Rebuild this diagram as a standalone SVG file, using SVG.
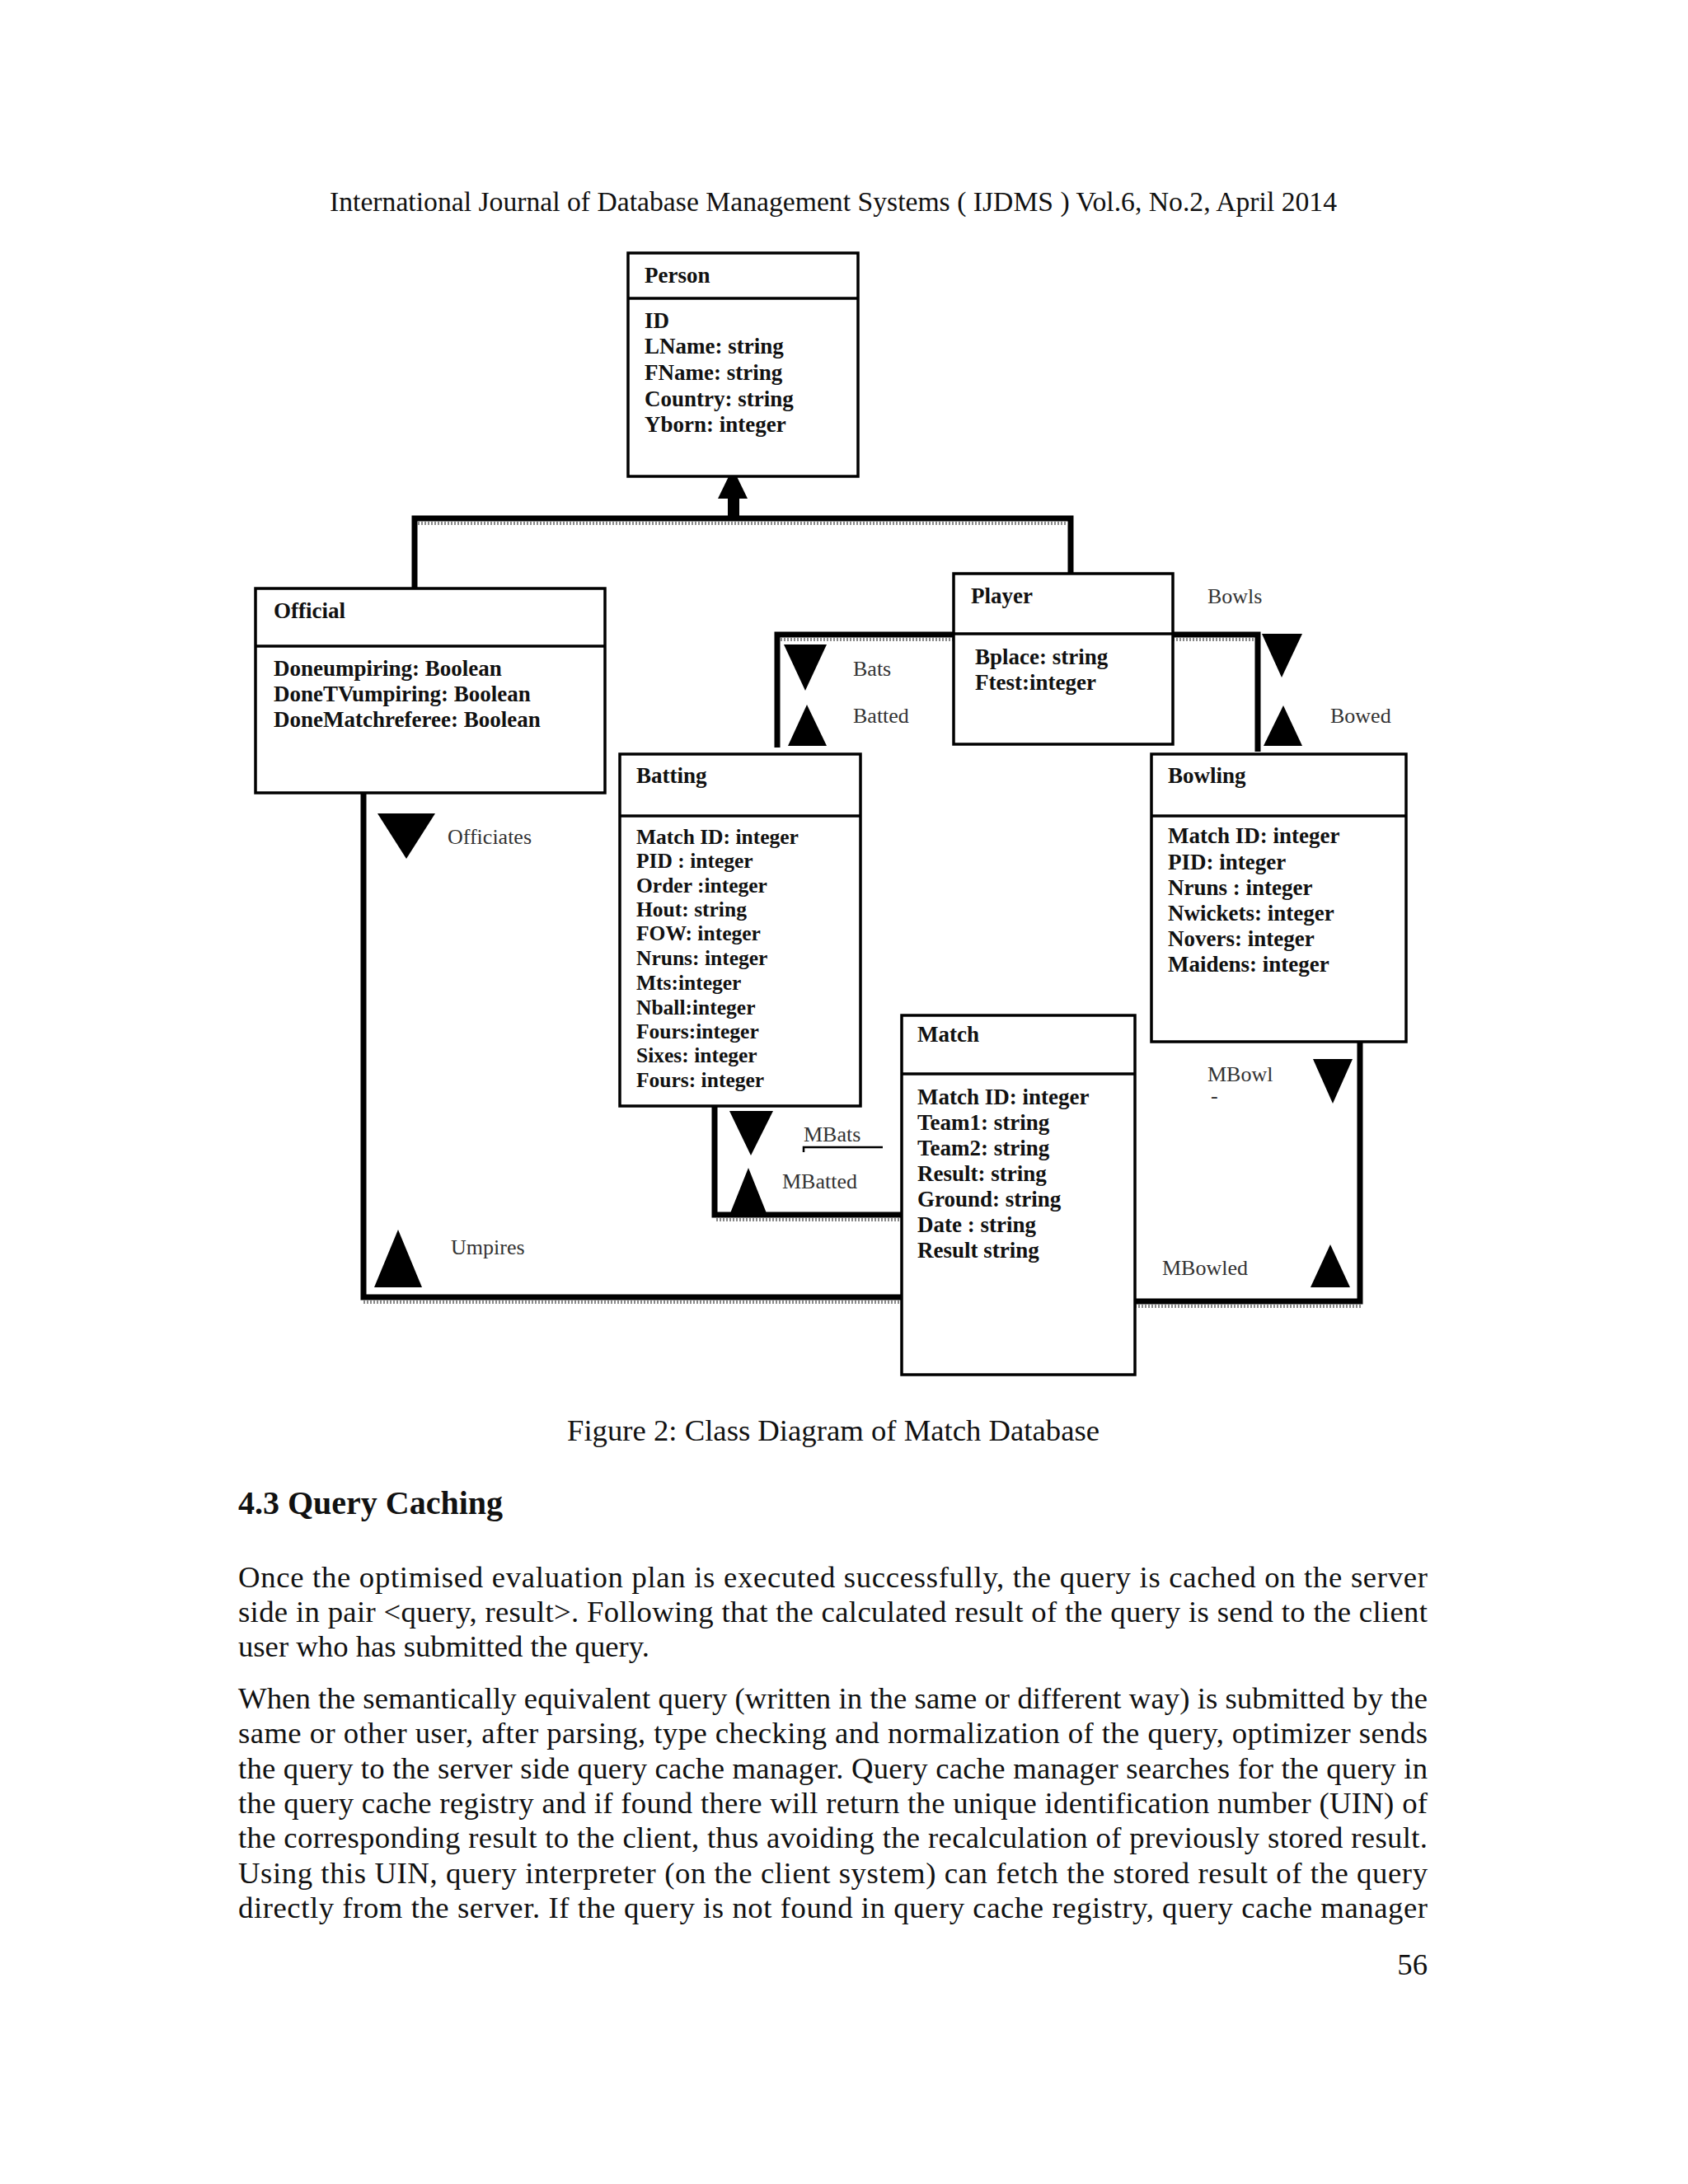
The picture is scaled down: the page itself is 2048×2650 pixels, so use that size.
<svg xmlns="http://www.w3.org/2000/svg" width="2048" height="2650" viewBox="0 0 2048 2650">
<style>
text{font-family:"Liberation Serif","Times New Roman",serif;fill:#111}
.page{font-size:36.7px}
.hdr{font-size:33.5px}
.h2{font-size:40px;font-weight:bold}
.ttl{font-size:27px;font-weight:bold}
.att{font-size:27px;font-weight:bold}
.attb{font-size:25.5px;font-weight:bold}
.lbl{font-size:26px;fill:#333}
.box{fill:#fff;stroke:#000;stroke-width:3.5}
.div{stroke:#000;stroke-width:3.5}
.ln{fill:none;stroke:#000;stroke-width:7;stroke-linejoin:miter}
.hatch{fill:none;stroke:#8a8a8a;stroke-width:4;stroke-dasharray:2 2}
.tri{fill:#000}
</style>
<rect width="2048" height="2650" fill="#fff"/>
<text class="hdr" x="400" y="256" textLength="1222" lengthAdjust="spacingAndGlyphs">International Journal of Database Management Systems ( IJDMS ) Vol.6, No.2, April 2014</text>

<g id="connectors">
  <!-- inheritance -->
  <polygon class="tri" points="889,568 907,605 871,605"/>
  <rect x="883" y="604" width="14" height="22" fill="#000"/>
  <path class="ln" d="M503,714 V629 H1299 V697"/>
  <path class="hatch" d="M507,635 H1296"/>
  <!-- Bats / Batted -->
  <path class="ln" d="M943,907 V770 H1157"/>
  <path class="hatch" d="M947,776 H1157"/>
  <polygon class="tri" points="951,782 1003,782 977,838"/>
  <polygon class="tri" points="956,905 1003,905 979,855"/>
  <!-- Bowls / Bowed -->
  <path class="ln" d="M1423,770 H1526 V912"/>
  <path class="hatch" d="M1423,776 H1522"/>
  <polygon class="tri" points="1531,769 1580,769 1555,822"/>
  <polygon class="tri" points="1533,905 1580,905 1557,856"/>
  <!-- Officiates / Umpires -->
  <path class="ln" d="M441,962 V1574 H1094"/>
  <path class="hatch" d="M441,1580 H1094"/>
  <polygon class="tri" points="458,987 528,987 493,1042"/>
  <polygon class="tri" points="454,1562 512,1562 483,1492"/>
  <!-- MBats / MBatted -->
  <path class="ln" d="M867,1342 V1474 H1094"/>
  <path class="hatch" d="M869,1480 H1094"/>
  <polygon class="tri" points="885,1348 938,1348 911,1402"/>
  <polygon class="tri" points="886,1472 930,1472 908,1417"/>
  <path d="M975,1398 V1392 H1071" fill="none" stroke="#000" stroke-width="2.5"/>
  <!-- MBowl / MBowled -->
  <path class="ln" d="M1650,1264 V1579 H1377"/>
  <path class="hatch" d="M1377,1585 H1653"/>
  <polygon class="tri" points="1593,1285 1641,1285 1617,1339"/>
  <polygon class="tri" points="1590,1562 1638,1562 1614,1510"/>
</g>

<g id="connector-labels">
  <text class="lbl" x="1035" y="820">Bats</text>
  <text class="lbl" x="1035" y="877">Batted</text>
  <text class="lbl" x="1465" y="732">Bowls</text>
  <text class="lbl" x="1614" y="877">Bowed</text>
  <text class="lbl" x="543" y="1024">Officiates</text>
  <text class="lbl" x="547" y="1522">Umpires</text>
  <text class="lbl" x="975" y="1385">MBats</text>
  <text class="lbl" x="949" y="1442">MBatted</text>
  <text class="lbl" x="1465" y="1312">MBowl</text>
  <text class="lbl" x="1469" y="1338">-</text>
  <text class="lbl" x="1410" y="1547">MBowled</text>
</g>

<g id="person">
  <rect class="box" x="762" y="307" width="279" height="271"/>
  <line class="div" x1="762" y1="362" x2="1041" y2="362"/>
  <text class="ttl" x="782" y="343">Person</text>
  <text class="att" x="782" y="398">ID</text>
  <text class="att" x="782" y="429">LName: string</text>
  <text class="att" x="782" y="461">FName: string</text>
  <text class="att" x="782" y="493">Country: string</text>
  <text class="att" x="782" y="524">Yborn: integer</text>
</g>

<g id="official">
  <rect class="box" x="310" y="714" width="424" height="248"/>
  <line class="div" x1="310" y1="784" x2="734" y2="784"/>
  <text class="ttl" x="332" y="750">Official</text>
  <text class="att" x="332" y="820">Doneumpiring: Boolean</text>
  <text class="att" x="332" y="851">DoneTVumpiring: Boolean</text>
  <text class="att" x="332" y="882">DoneMatchreferee: Boolean</text>
</g>

<g id="player">
  <rect class="box" x="1157" y="696" width="266" height="207"/>
  <line class="div" x1="1157" y1="769" x2="1423" y2="769"/>
  <text class="ttl" x="1178" y="732">Player</text>
  <text class="att" x="1183" y="806">Bplace: string</text>
  <text class="att" x="1183" y="837">Ftest:integer</text>
</g>

<g id="batting">
  <rect class="box" x="752" y="915" width="292" height="427"/>
  <line class="div" x1="752" y1="990" x2="1044" y2="990"/>
  <text class="ttl" x="772" y="950">Batting</text>
  <text class="attb" x="772" y="1024">Match ID: integer</text>
  <text class="attb" x="772" y="1053">PID : integer</text>
  <text class="attb" x="772" y="1083">Order :integer</text>
  <text class="attb" x="772" y="1112">Hout: string</text>
  <text class="attb" x="772" y="1141">FOW: integer</text>
  <text class="attb" x="772" y="1171">Nruns: integer</text>
  <text class="attb" x="772" y="1201">Mts:integer</text>
  <text class="attb" x="772" y="1231">Nball:integer</text>
  <text class="attb" x="772" y="1260">Fours:integer</text>
  <text class="attb" x="772" y="1289">Sixes: integer</text>
  <text class="attb" x="772" y="1319">Fours: integer</text>
</g>

<g id="bowling">
  <rect class="box" x="1397" y="915" width="309" height="349"/>
  <line class="div" x1="1397" y1="990" x2="1706" y2="990"/>
  <text class="ttl" x="1417" y="950">Bowling</text>
  <text class="att" x="1417" y="1023">Match ID: integer</text>
  <text class="att" x="1417" y="1055">PID: integer</text>
  <text class="att" x="1417" y="1086">Nruns : integer</text>
  <text class="att" x="1417" y="1117">Nwickets: integer</text>
  <text class="att" x="1417" y="1148">Novers: integer</text>
  <text class="att" x="1417" y="1179">Maidens: integer</text>
</g>

<g id="match">
  <rect class="box" x="1094" y="1232" width="283" height="436"/>
  <line class="div" x1="1094" y1="1303" x2="1377" y2="1303"/>
  <text class="ttl" x="1113" y="1264">Match</text>
  <text class="att" x="1113" y="1340">Match ID: integer</text>
  <text class="att" x="1113" y="1371">Team1: string</text>
  <text class="att" x="1113" y="1402">Team2: string</text>
  <text class="att" x="1113" y="1433">Result: string</text>
  <text class="att" x="1113" y="1464">Ground: string</text>
  <text class="att" x="1113" y="1495">Date : string</text>
  <text class="att" x="1113" y="1526">Result  string</text>
</g>

<text class="page" x="688" y="1748" textLength="646" lengthAdjust="spacingAndGlyphs">Figure 2: Class Diagram of Match Database</text>
<text class="h2" x="289" y="1837" textLength="321" lengthAdjust="spacingAndGlyphs">4.3 Query Caching</text>

<g class="page">
  <text x="289" y="1926" textLength="1443" lengthAdjust="spacing">Once the optimised evaluation plan is executed successfully, the query is cached on the server</text>
  <text x="289" y="1968" textLength="1443" lengthAdjust="spacing">side in pair &lt;query, result&gt;. Following that the calculated result of the query is send to the client</text>
  <text x="289" y="2010">user who has submitted the query.</text>
  <text x="289" y="2073" textLength="1443" lengthAdjust="spacing">When the semantically equivalent query (written in the same or different way) is submitted by the</text>
  <text x="289" y="2115.3" textLength="1443" lengthAdjust="spacing">same or other user, after parsing, type checking and normalization of the query, optimizer sends</text>
  <text x="289" y="2157.6" textLength="1443" lengthAdjust="spacing">the query to the server side query cache manager. Query cache manager searches for the query in</text>
  <text x="289" y="2199.9" textLength="1443" lengthAdjust="spacing">the query cache registry and if found there will return the unique identification number (UIN) of</text>
  <text x="289" y="2242.2" textLength="1443" lengthAdjust="spacing">the corresponding result to the client, thus avoiding the recalculation of previously stored result.</text>
  <text x="289" y="2284.5" textLength="1443" lengthAdjust="spacing">Using this UIN, query interpreter (on the client system) can fetch the stored result of the query</text>
  <text x="289" y="2326.8" textLength="1443" lengthAdjust="spacing">directly from the server. If the query is not found in query cache registry, query cache manager</text>
  <text x="1732" y="2396" text-anchor="end">56</text>
</g>
</svg>
